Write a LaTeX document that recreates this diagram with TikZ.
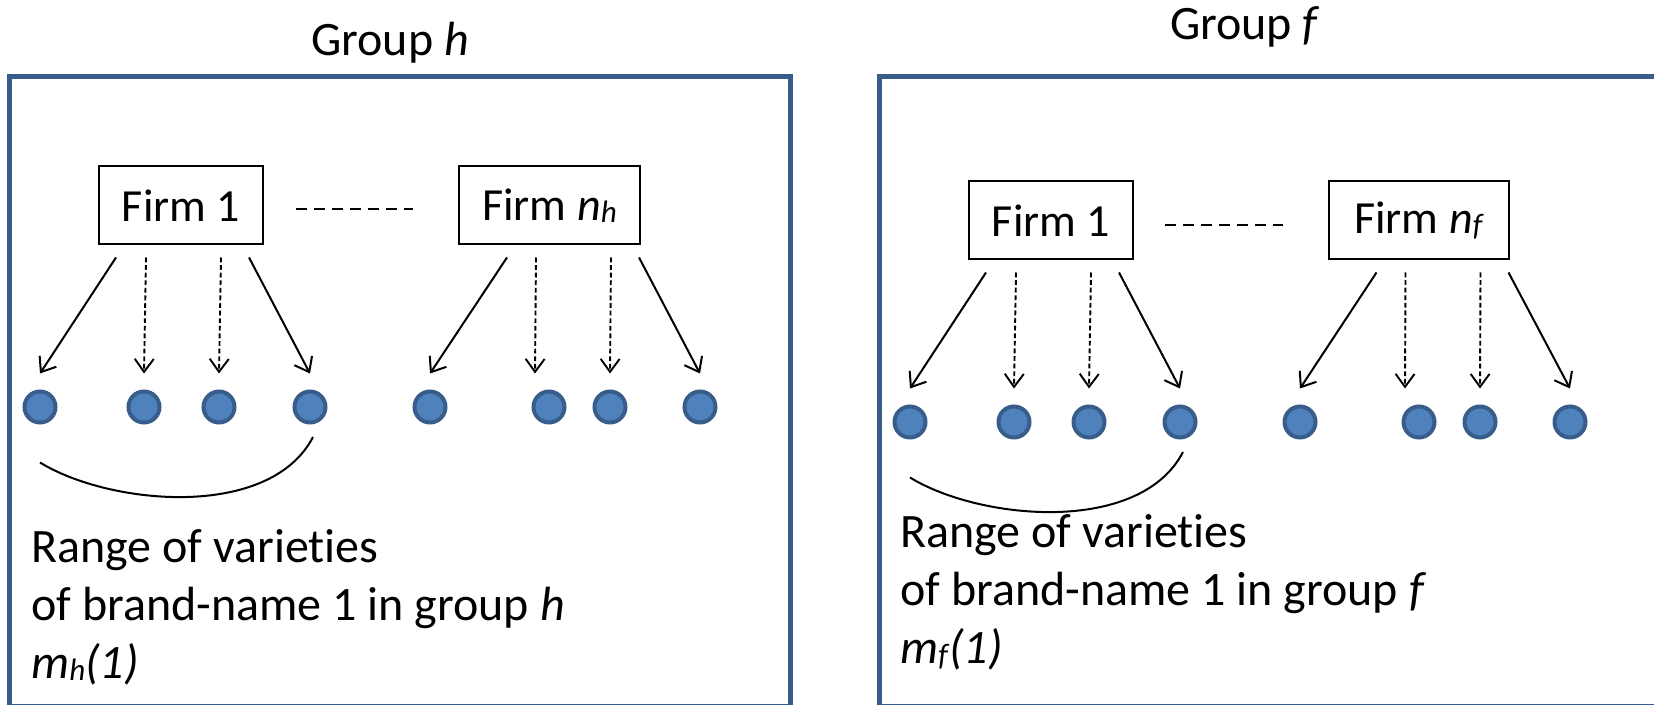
\documentclass[tikz,border=0pt]{standalone}
\usepackage{fontspec}
\setmainfont{Carlito}[Ligatures=NoCommon]
\usepackage{tikz}
\usetikzlibrary{arrows.meta}
\definecolor{Frame}{HTML}{385D8A}
\definecolor{DotFill}{HTML}{4F81BD}
\definecolor{DotEdge}{HTML}{385D8A}
\newcommand{\lowidx}[1]{\raisebox{-1pt}{\fontsize{15.5}{15.5}\selectfont\textit{#1}}}

\begin{document}
\begin{tikzpicture}[
  x=.5pt,y=-.5pt,
  font=\fontsize{23}{29}\selectfont,
  frame/.style={draw=Frame,line width=2.5pt},
  firm/.style={draw=black,line width=1pt,minimum height=39pt,minimum width=#1,inner sep=0pt},
  firm/.default=82pt,
  variety/.style={circle,fill=DotFill,draw=DotEdge,line width=2pt,minimum size=15.5pt,inner sep=0pt},
  own/.style={-{Straight Barb[length=6.5pt,width=10pt]},line width=1pt},
  other/.style={-{Straight Barb[length=6.5pt,width=9.5pt]},line width=.95pt,dash pattern=on 2.4pt off 1.4pt},
  etc/.style={line width=1pt,dash pattern=on 5.5pt off 3.5pt},
  spanline/.style={line width=1pt},
  txt/.style={inner sep=0pt,align=left,font=\fontsize{24}{29}\selectfont}
]
\useasboundingbox (0,0) rectangle (1654,705);

% group h
\draw[frame] (9.5,76.5) rectangle (790,706);
\node[txt,anchor=base] (grouph) at (390,56) {Group \textit{h}};
\node[firm] (firmh1) at (181,205.5) {Firm 1};
\node[firm=90.5pt] (firmhn) at (549.5,205.5) {Firm \textit{n}\lowidx{h}};
\draw[etc] ([xshift=16pt,yshift=-2pt]firmh1.east) -- ([xshift=-22.5pt,yshift=-2pt]firmhn.west);
\node[variety] (dh1) at (40,407) {}; \node[variety] (dh2) at (144,407) {};
\node[variety] (dh3) at (219,407) {}; \node[variety] (dh4) at (310,407) {};
\node[variety] (dh5) at (430,407) {}; \node[variety] (dh6) at (549,407) {};
\node[variety] (dh7) at (610,407) {}; \node[variety] (dh8) at (700,407) {};
\draw[own] ([xshift=-32.5pt,yshift=-6pt]firmh1.south) -- ([yshift=8pt]dh1.north);
\draw[other] ([xshift=-17.5pt,yshift=-6pt]firmh1.south) -- ([yshift=8pt]dh2.north);
\draw[other] ([xshift=20pt,yshift=-6pt]firmh1.south) -- ([yshift=8pt]dh3.north);
\draw[own] ([xshift=34pt,yshift=-6pt]firmh1.south) -- ([yshift=8pt]dh4.north);
\draw[own] ([xshift=-21.25pt,yshift=-6pt]firmhn.south) -- ([yshift=8pt]dh5.north);
\draw[other] ([xshift=-6.75pt,yshift=-6pt]firmhn.south) -- ([xshift=-7pt,yshift=8pt]dh6.north);
\draw[other] ([xshift=30.75pt,yshift=-6pt]firmhn.south) -- ([yshift=8pt]dh7.north);
\draw[own] ([xshift=44.75pt,yshift=-6pt]firmhn.south) -- ([yshift=8pt]dh8.north);
\draw[spanline] ([yshift=-19pt]dh1.south) .. controls +(70,43) and +(-43,83) .. ([xshift=1.5pt,yshift=-6.25pt]dh4.south);
\node[txt,anchor=north west] (rangeh) at (31,529) {Range of varieties\\of brand-name 1 in group \textit{h}\\\textit{m}\lowidx{h}\textit{(1)}};

% group f
\draw[frame] (879,76.5) rectangle (1660,706);
\node[txt,anchor=base] (groupf) at (1245,40) {Group \textit{f}};
\node[firm] (firmf1) at (1051,220.5) {Firm 1};
\node[firm=90pt] (firmfn) at (1419,220.5) {Firm \textit{n}\lowidx{f}};
\draw[etc] ([xshift=15.5pt,yshift=-2.5pt]firmf1.east) -- ([xshift=-22.5pt,yshift=-2.5pt]firmfn.west);
\node[variety] (df1) at (910,422) {}; \node[variety] (df2) at (1014,422) {};
\node[variety] (df3) at (1089,422) {}; \node[variety] (df4) at (1180,422) {};
\node[variety] (df5) at (1300,422) {}; \node[variety] (df6) at (1419,422) {};
\node[variety] (df7) at (1480,422) {}; \node[variety] (df8) at (1570,422) {};
\draw[own] ([xshift=-32.5pt,yshift=-6pt]firmf1.south) -- ([yshift=8pt]df1.north);
\draw[other] ([xshift=-17.5pt,yshift=-6pt]firmf1.south) -- ([yshift=8pt]df2.north);
\draw[other] ([xshift=20pt,yshift=-6pt]firmf1.south) -- ([yshift=8pt]df3.north);
\draw[own] ([xshift=34pt,yshift=-6pt]firmf1.south) -- ([yshift=8pt]df4.north);
\draw[own] ([xshift=-21.25pt,yshift=-6pt]firmfn.south) -- ([yshift=8pt]df5.north);
\draw[other] ([xshift=-6.75pt,yshift=-6pt]firmfn.south) -- ([xshift=-7pt,yshift=8pt]df6.north);
\draw[other] ([xshift=30.75pt,yshift=-6pt]firmfn.south) -- ([yshift=8pt]df7.north);
\draw[own] ([xshift=44.75pt,yshift=-6pt]firmfn.south) -- ([yshift=8pt]df8.north);
\draw[spanline] ([yshift=-19pt]df1.south) .. controls +(70,43) and +(-43,83) .. ([xshift=1.5pt,yshift=-6.25pt]df4.south);
\node[txt,anchor=north west] (rangef) at (900,514) {Range of varieties\\of brand-name 1 in group \textit{f}\\\textit{m}\lowidx{f}\textit{(1)}};
\end{tikzpicture}
\end{document}
